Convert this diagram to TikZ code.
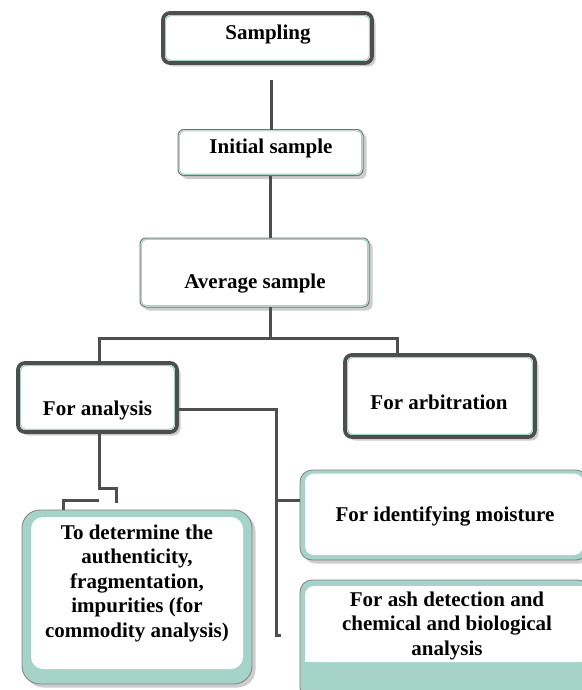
\documentclass[tikz,border=0pt]{standalone}
\usepackage{fontspec}
\setmainfont{Liberation Serif}
\usetikzlibrary{shadows}
\definecolor{tealc}{RGB}{166,211,199}
\definecolor{linec}{RGB}{78,78,78}
\definecolor{shadc}{RGB}{205,205,205}
\tikzset{
  shad/.style={drop shadow={shadow xshift=3.5pt,shadow yshift=-3.5pt,fill=shadc,opacity=1}},
  boxbase/.style={rectangle, inner sep=0pt, outer sep=0pt},
  thickbox/.style={boxbase, shad, fill=white, draw=linec, line width=3.8pt, rounded corners=7pt},
  thinbox/.style={boxbase, shad, fill=white, draw=black!55, line width=1pt, rounded corners=6pt},
  tealbox/.style={boxbase, shad, fill=tealc, draw=black!50, line width=0.8pt, rounded corners=#1},
  conn/.style={draw=linec, line width=3pt},
  txt/.style={font=\fontsize{21}{24.5}\selectfont\bfseries, inner sep=0pt, anchor=base, align=center},
  tealline/.style={draw=tealc, line width=1.1pt, rounded corners=#1},
}
\begin{document}
\begin{tikzpicture}[x=1pt,y=-1pt]
\useasboundingbox (0,0) rectangle (581,690);
% boxes
\node[thickbox, minimum width=209pt, minimum height=50pt] (samp) at (267.5,38) {};
\node[thinbox, minimum width=185pt, minimum height=46pt] (init) at (270.5,152.5) {};
\node[thinbox, minimum width=229pt, minimum height=69pt] (avg) at (254.5,272.5) {};
\node[thickbox, minimum width=159pt, minimum height=69pt] (ana) at (97.5,397.5) {};
\node[thickbox, minimum width=190pt, minimum height=82pt] (arb) at (440,396) {};
\node[tealbox=12pt, minimum width=288pt, minimum height=90pt] (moist) at (444,515) {};
\node[tealbox=12pt, minimum width=290pt, minimum height=120pt] (ash) at (445,640) {};
\node[tealbox=18pt, minimum width=230pt, minimum height=174pt] (det) at (137,597) {};
% inner details
\draw[tealline=5pt] ([shift={(2.6,2.6)}]samp.north west) rectangle ([shift={(-2.6,-2.6)}]samp.south east);
\draw[tealline=5pt] ([shift={(2.6,2.6)}]ana.north west) rectangle ([shift={(-2.6,-2.6)}]ana.south east);
\draw[tealline=5pt] ([shift={(2.6,2.6)}]arb.north west) rectangle ([shift={(-2.6,-2.6)}]arb.south east);
\draw[tealline=5pt] ([shift={(1.3,1.3)}]init.north west) rectangle ([shift={(-1.3,-1.3)}]init.south east);
\draw[tealline=5pt] ([shift={(1.3,1.3)}]avg.north west) rectangle ([shift={(-1.3,-1.3)}]avg.south east);
\fill[white, rounded corners=12pt] ([shift={(9,7)}]det.north west) rectangle ([shift={(-9,-15)}]det.south east);
\fill[white, rounded corners=9pt] ([shift={(5,3.5)}]moist.north west) rectangle ([shift={(-5,-5)}]moist.south east);
\fill[white, rounded corners=9pt] ([shift={(5,6)}]ash.north west) rectangle (ash.east |- 0,662);
\fill[white] ([shift={(5,0)}]ash.west |- 0,645) rectangle (ash.east |- 0,662);
% connectors
\coordinate (c0) at (271,80);
\coordinate (hl) at (99,338);
\coordinate (hr) at (397,338);
\coordinate (vr) at (276,409);
\coordinate (vb) at (276,635);
\coordinate (vm) at (276,500);
\coordinate (s1) at (99,488);
\coordinate (s2) at (99,500);
\coordinate (s3) at (63,500);
\draw[conn] (c0) -- (c0 |- init.north);
\draw[conn] (init.south) -- (init.south |- avg.north);
\draw[conn] (init.south |- avg.south) -- (init.south |- hl);
\draw[conn] (hl |- ana.north) -- (hl) -- (hr) -- (hr |- arb.north);
\draw[conn] (ana.east |- vr) -- (vr) -- (vb) -- ++(5,0);
\draw[conn] (vm) -- (vm -| moist.west);
\draw[conn] (hl |- ana.south) -- (s1) -- ++(17,0) -- ++(0,15);
\draw[conn] (s2) -- (s3) -- (s3 |- det.north);
% texts
\node[txt] (sampT) at (268,40) {Sampling};
\node[txt] (initT) at (271,153) {Initial sample};
\node[txt] (avgT) at (255,288) {Average sample};
\node[txt] (anaT) at (97.5,415) {For analysis};
\node[txt] (arbT) at (439,409) {For arbitration};
\node[txt] (moistT) at (445,521) {For identifying moisture};
\node[txt] (ashT) at (447,655) {For ash detection and\\chemical and biological\\analysis};
\node[txt] (detT) at (137,637) {To determine the\\authenticity,\\fragmentation,\\impurities (for\\commodity analysis)};
\end{tikzpicture}
\end{document}
